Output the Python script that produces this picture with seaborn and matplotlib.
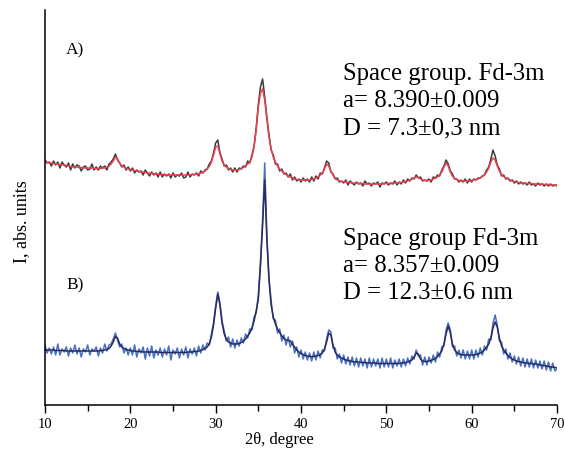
import matplotlib
matplotlib.use('Agg')  # no display, just write the png
import matplotlib.pyplot as plt
from matplotlib.ticker import MultipleLocator
import numpy as np
import seaborn as sns

# 2theta grid the patterns were read on (0.25 deg step, 10..70)
two_theta = np.arange(10, 70.001, 0.25)

# intensities in arbitrary units, one row = 2 degrees
pattern_a_obs = [
    245, 242, 243, 239, 244, 240, 243, 237,
    243, 240, 238, 242, 235, 241, 237, 240,
    239, 234, 238, 239, 235, 236, 241, 235,
    238, 235, 239, 237, 239, 235, 241, 243,
    246, 251, 245, 242, 238, 240, 235, 238,
    234, 237, 232, 235, 233, 234, 230, 235,
    232, 229, 233, 230, 232, 228, 233, 228,
    231, 229, 231, 227, 232, 228, 230, 229,
    232, 227, 228, 233, 228, 231, 230, 232,
    229, 234, 232, 235, 236, 241, 244, 252,
    262, 265, 252, 246, 239, 240, 235, 237,
    233, 237, 233, 237, 236, 239, 238, 244,
    242, 250, 259, 277, 301, 318, 326, 308,
    288, 270, 255, 250, 241, 241, 234, 236,
    231, 232, 228, 231, 225, 228, 224, 226,
    223, 227, 224, 226, 223, 228, 224, 229,
    226, 232, 231, 237, 244, 242, 233, 231,
    226, 227, 223, 224, 222, 225, 220, 224,
    222, 220, 223, 221, 222, 219, 224, 221,
    222, 219, 222, 221, 223, 218, 222, 221,
    223, 220, 222, 221, 224, 220, 223, 221,
    225, 222, 226, 224, 227, 226, 230, 227,
    228, 224, 225, 224, 226, 223, 228, 227,
    230, 229, 235, 239, 245, 241, 234, 231,
    226, 226, 223, 225, 223, 226, 222, 226,
    223, 226, 225, 227, 227, 229, 230, 235,
    238, 246, 255, 249, 240, 236, 229, 230,
    226, 227, 224, 225, 222, 224, 221, 223,
    221, 222, 220, 223, 220, 221, 219, 222,
    220, 221, 219, 221, 219, 221, 219, 220,
    219,
]
pattern_a_fit = [
    243, 242.5, 242, 242, 241.5, 241, 241, 240.5,
    240, 240, 239.5, 239, 238.5, 238, 238, 238,
    237.5, 237.5, 237, 237, 237, 237, 237, 236.5,
    236.5, 236.5, 236.5, 237, 237, 238, 239, 241,
    244, 248, 246, 242, 239, 238, 237, 236,
    235.5, 235, 234.5, 234, 233.5, 233, 233, 232.5,
    232, 232, 231.5, 231, 231, 231, 230.5, 230.5,
    230.5, 230, 230, 230, 230, 230, 230, 230,
    230, 230, 230, 230, 230, 230.5, 230.5, 231,
    231, 232, 232.5, 234, 236, 238.5, 243, 250,
    258, 259, 251, 244, 240, 238, 236.5, 235.5,
    235, 235, 235, 235.5, 236.5, 237.5, 239, 241,
    243, 248, 258, 275, 298, 312, 316, 305,
    286, 268, 256, 248, 243, 239, 236, 234,
    232, 230.5, 229, 228, 227, 226, 225.5, 225,
    225, 225, 225, 225, 225, 225.5, 226, 227,
    228, 230, 232, 236, 241, 239, 234, 230,
    227, 225, 224, 223.5, 223, 223, 222.5, 222.5,
    222, 222, 222, 221.5, 221.5, 221.5, 221, 221,
    221, 221, 221, 221, 221, 221, 221, 221.5,
    221.5, 221.5, 221.5, 222, 222, 222, 222.5, 222.5,
    223, 223.5, 224, 225, 226, 227, 228, 227.5,
    226, 225, 224.5, 224.5, 224.5, 225, 226, 227,
    228, 230, 233, 238, 242, 239, 233, 229,
    226.5, 225.5, 224.5, 224, 224, 224, 224, 224,
    224.5, 225, 225.5, 226, 227, 228.5, 230, 233,
    237, 243, 247, 245, 239, 234, 230.5, 228.5,
    227, 226, 225, 224, 223.5, 223, 222.5, 222,
    222, 222, 221.5, 221.5, 221.5, 221, 221, 221,
    221, 221, 220.5, 220.5, 220.5, 220, 220, 220,
    220,
]
pattern_b_obs = [
    60, 52, 57, 51, 58, 50, 61, 50,
    56, 53, 58, 49, 57, 52, 60, 51,
    57, 48, 56, 53, 60, 50, 56, 54,
    58, 49, 57, 52, 61, 54, 60, 61,
    66, 72, 65, 58, 61, 52, 57, 50,
    57, 50, 60, 48, 56, 52, 58, 46,
    57, 49, 59, 47, 55, 50, 57, 48,
    56, 50, 59, 45, 55, 51, 57, 47,
    56, 50, 58, 47, 56, 51, 57, 49,
    59, 52, 60, 55, 62, 60, 71, 82,
    99, 113, 102, 84, 74, 64, 68, 58,
    66, 57, 65, 59, 67, 62, 71, 67,
    76, 75, 88, 92, 110, 142, 185, 242,
    170, 127, 104, 86, 85, 72, 76, 64,
    70, 60, 68, 58, 64, 52, 58, 48,
    55, 46, 53, 45, 52, 44, 53, 45,
    54, 47, 55, 54, 66, 75, 73, 57,
    57, 46, 51, 42, 50, 41, 48, 40,
    48, 39, 47, 38, 47, 39, 46, 37,
    47, 38, 46, 39, 46, 37, 47, 38,
    46, 38, 47, 37, 45, 39, 46, 38,
    46, 39, 47, 41, 49, 46, 55, 49,
    50, 40, 48, 40, 48, 42, 50, 43,
    53, 48, 58, 59, 75, 82, 75, 58,
    59, 49, 55, 47, 55, 46, 54, 46,
    55, 46, 55, 48, 57, 50, 59, 55,
    66, 65, 82, 90, 80, 64, 63, 51,
    56, 46, 52, 43, 49, 41, 48, 39,
    47, 38, 46, 38, 46, 37, 45, 37,
    44, 36, 44, 35, 43, 34, 42, 34,
    36,
]
pattern_b_fit = [
    55, 55, 55, 55, 55, 54.5, 54.5, 54.5,
    54.5, 54.5, 54, 54, 54, 54, 54, 54,
    54, 54, 54, 54, 54, 54, 54, 54,
    54, 54, 54.5, 54.5, 55, 55.5, 56.5, 59,
    63, 68.5, 67, 61, 58, 56.5, 55.5, 55,
    54.5, 54, 54, 53.5, 53.5, 53.5, 53, 53,
    53, 53, 53, 53, 53, 53, 52.5, 52.5,
    52.5, 52.5, 52.5, 52.5, 52.5, 52.5, 52.5, 52.5,
    52.5, 52.5, 52.5, 53, 53, 53, 53.5, 53.5,
    54, 54.5, 55.5, 56.5, 58, 61, 68, 80,
    97, 111, 100, 82, 71, 66, 63, 62,
    61, 61, 61, 61.5, 62.5, 64, 66, 69,
    72, 77, 84, 94, 106, 140, 180, 225,
    165, 125, 100, 88, 81, 76, 72.5, 69,
    66.5, 65, 64.5, 64, 61, 58, 55, 53,
    51.5, 50.5, 49.5, 49, 48.5, 48.5, 48.5, 49,
    49.5, 50.5, 52, 56, 63, 72, 70, 60,
    53, 50, 48, 47, 46, 45, 44.5, 44,
    43.5, 43, 43, 43, 42.5, 42.5, 42.5, 42,
    42, 42, 42, 42, 41.5, 41.5, 41.5, 41.5,
    41.5, 41.5, 41.5, 41.5, 41.5, 41.5, 41.5, 42,
    42, 42.5, 43, 44, 45, 48, 52, 51,
    46, 44, 43.5, 43.5, 44, 44.5, 45.5, 46.5,
    48.5, 51, 54, 61, 71, 79, 72, 61,
    55, 52.5, 51, 50.5, 50, 50, 50, 50,
    50, 50, 50.5, 51, 52, 53, 55, 57.5,
    61, 67, 77, 83, 78, 67, 59, 55,
    52, 49.5, 47.5, 46, 45, 44, 43.5, 43,
    42.5, 42, 42, 41.5, 41.5, 41, 41, 40.5,
    40, 39.5, 39.5, 39, 38.5, 38, 38, 37.5,
    37,
]

label_a = 'Space group. Fd-3m\na= 8.390±0.009\nD = 7.3±0,3 nm'
label_b = 'Space group Fd-3m\na= 8.357±0.009\nD = 12.3±0.6 nm'

sns.set_style('ticks')
plt.rcParams['font.family'] = ['Liberation Serif', 'DejaVu Serif']
plt.rcParams['text.color'] = 'black'

fig = plt.figure(figsize=(5.65, 4.5), dpi=100)
ax = fig.add_axes([45 / 565, 45 / 450, 512 / 565, 395 / 450])

for obs, fit, c_obs, c_fit in [
        (pattern_a_obs, pattern_a_fit, '#3c3c3c', '#ec3f4f'),
        (pattern_b_obs, pattern_b_fit, '#4670c2', '#2c2a5c')]:
    sns.lineplot(x=two_theta, y=obs, color=c_obs, lw=1.1,
                 estimator=None, ax=ax)
    sns.lineplot(x=two_theta, y=fit, color=c_fit, lw=1.1,
                 estimator=None, ax=ax)

ax.set_xlim(10, 70)
ax.set_ylim(0, 395)
ax.set_yticks([])
ax.xaxis.set_major_locator(MultipleLocator(10))
ax.xaxis.set_minor_locator(MultipleLocator(5))
ax.tick_params(axis='x', which='major', length=6, width=1,
               labelsize=10.5, colors='black', pad=3)
ax.tick_params(axis='x', which='minor', length=4, width=1, colors='black')
for side in ['left', 'bottom']:
    ax.spines[side].set_color('black')
    ax.spines[side].set_linewidth(1.1)
sns.despine(ax=ax)

ax.set_xlabel('2θ, degree', fontsize=12, color='black')
ax.set_ylabel('I, abs. units', fontsize=13, color='black')
ax.xaxis.set_label_coords(0.457, -0.068)
ax.yaxis.set_label_coords(-0.03, 0.463)

ax.text(13.5, 355, 'A)', fontsize=12.5, va='center', ha='center')
ax.text(13.5, 120, 'B)', fontsize=12.5, va='center', ha='center')
ax.text(44.9, 304, label_a, fontsize=17.8, va='center', ha='left',
        linespacing=1.32)
ax.text(44.9, 139, label_b, fontsize=17.8, va='center', ha='left',
        linespacing=1.32)

fig.savefig('out.png', dpi=100)
